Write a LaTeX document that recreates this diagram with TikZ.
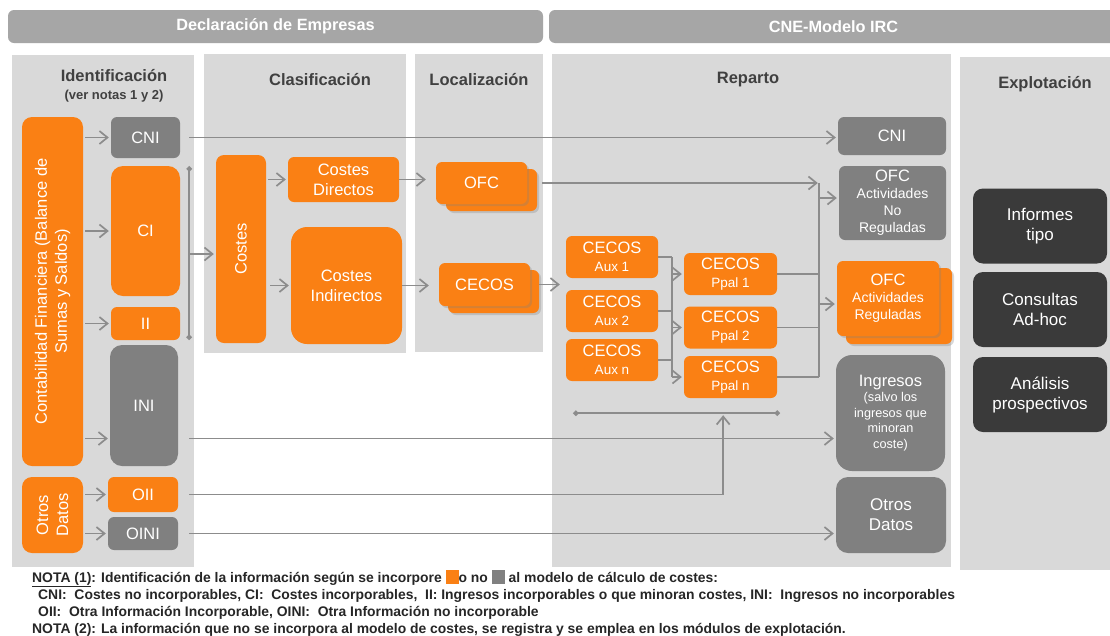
\documentclass[tikz,border=0pt]{standalone}
\usepackage{fontspec}
\setmainfont{Liberation Sans}
\usepackage{tikz}
\usetikzlibrary{shapes,arrows.meta,positioning,calc,shadows}
\usepackage{xcolor}
\definecolor{cneorange}{RGB}{250,128,20}
\definecolor{cnegray}{RGB}{128,128,128}
\definecolor{cnedark}{RGB}{58,58,58}
\definecolor{cnepanel}{RGB}{217,217,217}
\definecolor{cnebar}{RGB}{166,166,166}
\definecolor{cneline}{RGB}{140,140,140}
\definecolor{cnetext}{RGB}{64,64,64}
\newcommand{\cnetop}[1]{{\fontsize{16.5}{18}\selectfont #1}}

\begin{document}
\begin{tikzpicture}[x=1pt, y=-1pt,
    cbox/.style={rectangle, text=white, align=center, inner sep=1pt, rounded corners=6pt, font=\fontsize{16.5}{20}\selectfont},
    orbox/.style={cbox, fill=cneorange},
    grbox/.style={cbox, fill=cnegray},
    dkbox/.style={cbox, fill=cnedark, rounded corners=10pt, minimum width=134pt, minimum height=75pt, font=\fontsize{17}{20}\selectfont},
    subtxt/.style={font=\fontsize{13.5}{18}\selectfont},
    shbox/.style={orbox, drop shadow={shadow xshift=2pt, shadow yshift=-2pt, opacity=.3}},
    hbar/.style={rectangle, fill=cnebar, text=white, rounded corners=6pt, minimum height=33pt, font=\fontsize{16.3}{18}\selectfont\bfseries},
    coltitle/.style={text=cnetext, font=\fontsize{16.5}{19}\selectfont\bfseries},
    note/.style={anchor=base west, text=black!85, inner sep=0pt, font=\fontsize{13.9}{16}\selectfont\bfseries},
    link/.style={draw=cneline, line width=1.7pt},
    arr/.style={link, -{Straight Barb[length=8pt, width=13pt]}, shorten >=2pt},
    brk/.style={link, {Diamond[length=6pt, width=6pt]}-{Diamond[length=6pt, width=6pt]}}]

    \useasboundingbox[fill=white] (0,0) rectangle (1110,635);

    % top bars
    \node[hbar, minimum width=535pt] (decl) at (275.5,26.5) {Declaración de Empresas};
    \node[hbar, minimum width=569pt] (cne) at (833.5,26.5) {CNE-Modelo IRC};

    % column panels
    \fill[cnepanel] (12,55) rectangle (194,567);
    \fill[cnepanel] (204,54) rectangle (406,353);
    \fill[cnepanel] (415,54) rectangle (543,352);
    \fill[cnepanel] (552,54) rectangle (951,567);
    \fill[cnepanel] (960,57) rectangle (1115,570);

    \node[coltitle] (tident) at (114,76) {Identificación};
    \node[coltitle, font=\fontsize{13}{15}\selectfont\bfseries] (tnotas) at (114,96) {(ver notas 1 y 2)};
    \node[coltitle] (tclas) at (320,80) {Clasificación};
    \node[coltitle] (tloc) at (479,80) {Localización};
    \node[coltitle] (trep) at (748,80) {Reparto};
    \node[coltitle] (texp) at (1045,84) {Explotación};

    % identificacion
    \node[orbox, rotate=90, minimum width=349pt, minimum height=61pt, rounded corners=10pt] (conta) at (52.5,291.5) {Contabilidad Financiera (Balance de\\Sumas y Saldos)};
    \node[orbox, rotate=90, minimum width=76pt, minimum height=61pt, rounded corners=10pt] (otros) at (52.5,515) {Otros\\Datos};
    \node[grbox, minimum width=69pt, minimum height=41pt] (cniL) at (145.5,137.5) {CNI};
    \node[orbox, minimum width=69pt, minimum height=130pt, rounded corners=12pt] (ci) at (145.5,231) {CI};
    \node[orbox, minimum width=69pt, minimum height=33pt] (ii) at (145.5,323.5) {II};
    \node[grbox, minimum width=68pt, minimum height=121pt, rounded corners=12pt] (ini) at (144,405.5) {INI};
    \node[orbox, minimum width=70pt, minimum height=35pt] (oii) at (143,494.5) {OII};
    \node[grbox, minimum width=70pt, minimum height=33pt] (oini) at (143,533.5) {OINI};

    % clasificacion
    \node[orbox, rotate=90, minimum width=188pt, minimum height=50pt, rounded corners=8pt] (costes) at (241,249) {Costes};
    \node[orbox, minimum width=111pt, minimum height=45pt] (cdir) at (343.5,179.5) {Costes\\Directos};
    \node[orbox, minimum width=111pt, minimum height=117pt, rounded corners=16pt] (cind) at (346.5,285.5) {Costes\\Indirectos};

    % localizacion
    \node[shbox, minimum width=91pt, minimum height=42pt] (ofcB) at (491.5,190) {};
    \node[shbox, minimum width=91pt, minimum height=42pt] (ofc) at (481.5,183) {OFC};
    \node[shbox, minimum width=91pt, minimum height=43pt] (cecosB) at (493.5,291.5) {};
    \node[shbox, minimum width=91pt, minimum height=43pt] (cecos) at (484.5,284.5) {CECOS};

    % reparto
    \node[orbox, subtxt, minimum width=92pt, minimum height=42pt] (aux1) at (612,257) {\cnetop{CECOS}\\Aux 1};
    \node[orbox, subtxt, minimum width=92pt, minimum height=42pt] (aux2) at (612,311) {\cnetop{CECOS}\\Aux 2};
    \node[orbox, subtxt, minimum width=92pt, minimum height=42pt] (auxn) at (612,360) {\cnetop{CECOS}\\Aux n};
    \node[orbox, subtxt, minimum width=93pt, minimum height=42pt] (ppal1) at (730.5,274) {\cnetop{CECOS}\\Ppal 1};
    \node[orbox, subtxt, minimum width=93pt, minimum height=42pt] (ppal2) at (730.5,327.5) {\cnetop{CECOS}\\Ppal 2};
    \node[orbox, subtxt, minimum width=93pt, minimum height=42pt] (ppaln) at (730.5,377) {\cnetop{CECOS}\\Ppal n};

    \node[grbox, minimum width=108pt, minimum height=38pt] (cniR) at (892,136) {CNI};
    \node[grbox, font=\fontsize{14}{17}\selectfont, minimum width=107pt, minimum height=74pt] (ofcNR) at (892.5,203) {\cnetop{OFC}\\Actividades\\No\\Reguladas};
    \node[shbox, minimum width=106pt, minimum height=76pt] (ofcRB) at (899,306) {};
    \node[shbox, font=\fontsize{14}{17}\selectfont, minimum width=102pt, minimum height=75pt] (ofcR) at (888,298.5) {\cnetop{OFC}\\Actividades\\Reguladas};
    \node[grbox, font=\fontsize{12.7}{15.5}\selectfont, minimum width=109pt, minimum height=116pt, rounded corners=16pt] (ingr) at (890.5,413) {\cnetop{Ingresos}\\(salvo los\\ingresos que\\minoran\\coste)};
    \node[grbox, font=\fontsize{17}{20}\selectfont, minimum width=110pt, minimum height=76pt, rounded corners=12pt] (otrosR) at (891,515) {Otros\\Datos};

    % explotacion
    \node[dkbox] (inf) at (1040,226) {Informes\\tipo};
    \node[dkbox] (cons) at (1040,309.5) {Consultas\\Ad-hoc};
    \node[dkbox] (anal) at (1040,394.5) {Análisis\\prospectivos};

    % helper points
    \coordinate (iniOut) at ([yshift=-33pt]ini.west);
    \coordinate (costIn) at ([yshift=-5pt]costes.north);
    \coordinate (repIn) at ([xshift=-4pt]aux2.west);
    \coordinate (busA) at ([xshift=14pt]aux1.east);
    \coordinate (busR) at ([xshift=-20pt]ofcNR.west);
    \coordinate (ofcNRin) at ([yshift=5pt]ofcNR.west);
    \coordinate (ofcRin) at ([yshift=-5.5pt]ofcR.west);

    % arrows out of the accounts
    \draw[arr, shorten <=2pt] (conta.south |- cniL) -- (cniL);
    \draw[arr, shorten <=2pt] (conta.south |- ci) -- (ci);
    \draw[arr, shorten <=2pt] (conta.south |- ii) -- (ii);
    \draw[arr, shorten <=2pt] (conta.south |- iniOut) -- (iniOut);
    \draw[arr, shorten <=2pt] (otros.south |- oii) -- (oii);
    \draw[arr, shorten <=2pt] (otros.south |- oini) -- (oini);

    \draw[brk] ([xshift=9pt]ci.north east) coordinate (brkT) -- ([xshift=9pt]ii.south east) coordinate (brkB);
    \draw[arr] (brkT |- costIn) -- (costIn);
    \draw[arr, shorten <=2pt] (costes.south |- cdir) -- (cdir);
    \draw[arr, shorten <=4pt] (costes.south |- cind) -- (cind);
    \draw[arr, shorten >=10pt] (cdir.east) -- (cdir.east -| ofc.west);
    \draw[arr, shorten >=10pt] (cind.east) -- (cind.east -| cecos.west);
    \draw[arr] (cecosB.east |- cecos) -- (repIn |- cecos);

    % reparto
    \draw[link] (aux1) -- (busA |- aux1);
    \draw[link] (aux2) -- (busA |- aux2);
    \draw[link] (auxn) -- (busA |- auxn);
    \draw[link] (busA |- aux1) -- (busA |- ppaln);
    \draw[arr] (busA |- ppal1) -- (ppal1);
    \draw[arr] (busA |- ppal2) -- (ppal2);
    \draw[arr] (busA |- ppaln) -- (ppaln);
    \draw[brk] ([xshift=7pt, yshift=-32pt]auxn.south west) coordinate (repL) -- ([xshift=3pt, yshift=-15pt]ppaln.south east) coordinate (repR);
    \coordinate (repUp) at ($(repL)!0.725!(repR)$);

    \draw[arr, shorten <=5pt, shorten >=1pt] (ofcB.east |- ofc) -- (busR |- ofc);
    \draw[link] (busR |- ofc) -- (busR |- ppaln);
    \draw[link] (ppal1) -- (busR |- ppal1);
    \draw[link] (ppal2) -- (busR |- ppal2);
    \draw[link] (ppaln) -- (busR |- ppaln);
    \draw[arr] (busR |- ofcNRin) -- (ofcNRin);
    \draw[arr] (busR |- ofcRin) -- (ofcRin);

    % long lines to the right column
    \draw[arr] (brkT |- cniL) -- (cniR.west |- cniL);
    \draw[arr] (brkT |- iniOut) -- (ingr.west |- iniOut);
    \draw[arr] (brkT |- oii) -| (repUp);
    \draw[arr] (brkT |- oini) -- (otrosR.west |- oini);

    % notes
    \node[note] (nota1) at (32,582) {\underline{NOTA (1)}: Identificación de la información según se incorpore \textcolor{cneorange}{\rule[-2pt]{13pt}{14pt}}o no \textcolor{cnegray}{\rule[-2pt]{13pt}{14pt}} al modelo de cálculo de costes:};
    \node[note] (nota1a) at (38,599) {CNI:\ \ Costes no incorporables, CI:\ \ Costes incorporables,\ \ II:\ Ingresos incorporables o que minoran costes, INI:\ \ Ingresos no incorporables};
    \node[note] (nota1b) at (38,616) {OII:\ \ Otra Información Incorporable, OINI:\ \ Otra Información no incorporable};
    \node[note] (nota2) at (32,633) {NOTA (2): La información que no se incorpora al modelo de costes, se registra y se emplea en los módulos de explotación.};
\end{tikzpicture}
\end{document}
